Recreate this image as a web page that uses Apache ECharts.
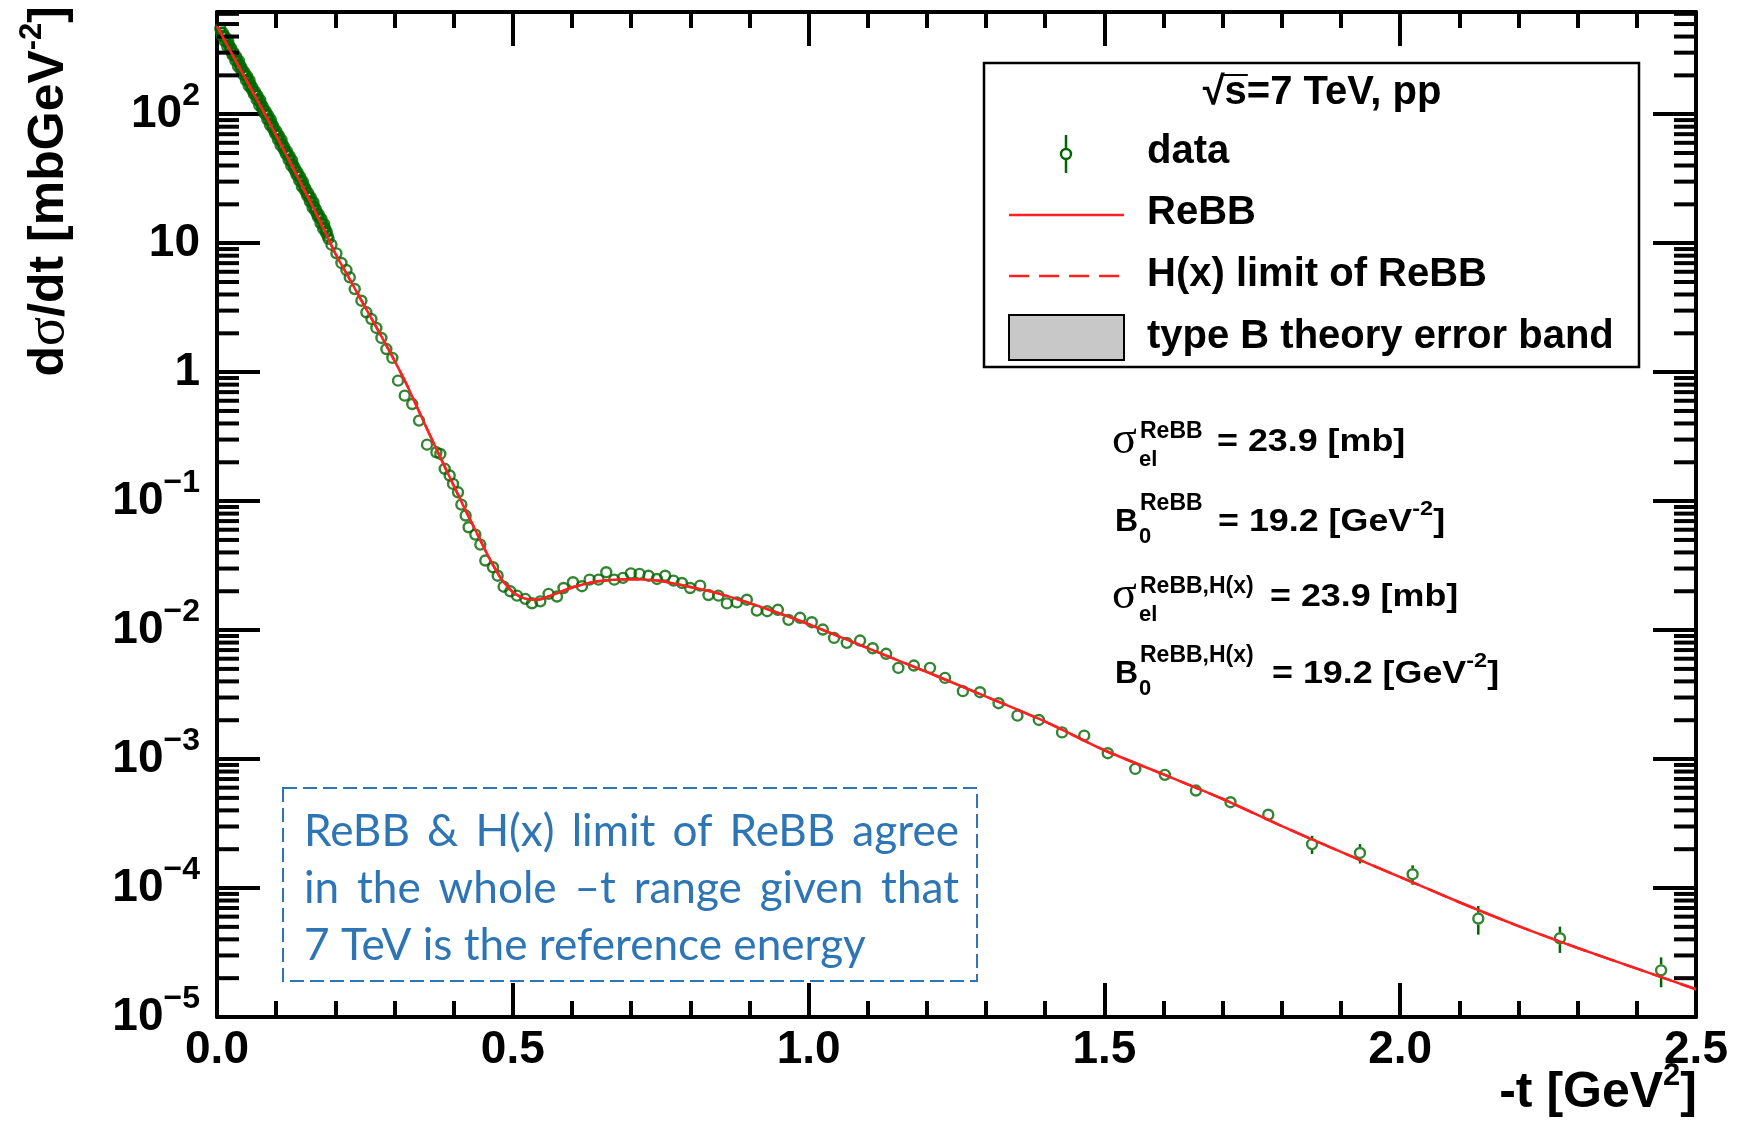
<!DOCTYPE html>
<html>
<head>
<meta charset="utf-8">
<script src="https://cdn.jsdelivr.net/npm/echarts@6/dist/echarts.min.js"></script>
<style>
  html, body { margin: 0; padding: 0; background: #ffffff; }
  #chart { width: 1738px; height: 1122px; }
</style>
</head>
<body>
<div id="chart"></div>
<script>
// ---- measured elastic pp differential cross-section, sqrt(s) = 7 TeV ----
// low-|t| run, fine binning
const tLowA = [
  0.0055, 0.0085, 0.0115, 0.0145, 0.0175, 0.0205, 0.0235, 0.0265, 0.0295, 0.0325,
  0.0355, 0.0385, 0.0415, 0.0445, 0.0475, 0.0505, 0.0535, 0.0565, 0.0595, 0.0625,
  0.0655, 0.0685, 0.0715, 0.0745, 0.0775, 0.0805, 0.0835, 0.0865, 0.0895, 0.0925,
  0.0955, 0.0985, 0.1015, 0.1045, 0.1075, 0.1105, 0.1135, 0.1165, 0.1195, 0.1225,
  0.1255, 0.1285, 0.1315, 0.1345, 0.1375, 0.1405, 0.1435, 0.1465, 0.1495, 0.1525,
  0.1555, 0.1585, 0.1615, 0.1645, 0.1675, 0.1705, 0.1735, 0.1765, 0.1795, 0.1825,
  0.1855, 0.1885
];
const dsdtLowA = [
  461, 406, 401, 396, 333, 341, 326, 287, 283, 280,
  235, 241, 230, 202, 200, 198, 166, 170, 162, 143,
  141, 139.5, 117, 120, 114.5, 101, 99.5, 98.1, 82.4, 84.1,
  80.1, 70.5, 69.5, 68.5, 57.5, 58.6, 55.8, 49.1, 48.4, 47.6,
  39.9, 40.6, 38.6, 33.8, 33.3, 32.8, 27.4, 28.0, 26.6, 23.3,
  22.9, 22.6, 18.9, 19.2, 18.2, 16.0, 15.7, 15.4, 12.9, 13.05,
  12.3, 10.8
];
// low-|t| run, second set of bins
const tLowB = [
  0.007, 0.010, 0.013, 0.016, 0.019, 0.022, 0.025, 0.028, 0.031, 0.034,
  0.037, 0.040, 0.043, 0.046, 0.049, 0.052, 0.055, 0.058, 0.061, 0.064,
  0.067, 0.070, 0.073, 0.076, 0.079, 0.082, 0.085, 0.088, 0.091, 0.094,
  0.097, 0.100, 0.103, 0.106, 0.109, 0.112, 0.115, 0.118, 0.121, 0.124,
  0.127, 0.130, 0.133, 0.136, 0.139, 0.142, 0.145, 0.148, 0.151, 0.154,
  0.157, 0.160, 0.163, 0.166, 0.169, 0.172, 0.175, 0.178, 0.181, 0.184,
  0.187
];
const dsdtLowB = [
  427.8, 427.6, 368, 367.9, 367.7, 316.4, 302, 301.8, 259.8, 259.7,
  259.5, 223.4, 213.3, 213.2, 183.4, 183.3, 183.2, 157.7, 150.5, 150.4,
  129.5, 129.4, 129.4, 111.3, 106.3, 106.1, 91.2, 90.9, 90.8, 78.0,
  74.3, 74.1, 63.6, 63.5, 63.3, 54.3, 51.7, 51.6, 44.3, 44.1,
  43.9, 37.6, 35.7, 35.6, 30.5, 30.3, 30.2, 25.9, 24.6, 24.5,
  21.0, 20.9, 20.8, 17.8, 16.9, 16.7, 14.3, 14.2, 14.1, 12.05,
  11.4
];
// large-|t| run
const tHigh = [
  0.1934, 0.2019, 0.2103, 0.2188, 0.2244, 0.2328, 0.2441, 0.2525, 0.2610, 0.2694,
  0.2779, 0.2863, 0.2964, 0.3060, 0.3173, 0.3300, 0.3415, 0.3550, 0.3708, 0.3775,
  0.3849, 0.3933, 0.3990, 0.4074, 0.4130, 0.4203, 0.4253, 0.4367, 0.4451, 0.4535,
  0.4665, 0.4744, 0.4845, 0.4958, 0.5071, 0.5211, 0.5324, 0.5465, 0.5605, 0.5747,
  0.5858, 0.6017, 0.6169, 0.6298, 0.6450, 0.6580, 0.6715, 0.6861, 0.6996, 0.7142,
  0.7294, 0.7436, 0.7576, 0.7716, 0.7858, 0.7998, 0.8167, 0.8307, 0.8476, 0.8618,
  0.8787, 0.8956, 0.9125, 0.9300, 0.9480, 0.9660, 0.9856, 1.0054, 1.0240, 1.0430,
  1.0645, 1.0870, 1.1084, 1.1310, 1.1517, 1.1780, 1.2052, 1.2306, 1.2608, 1.2897,
  1.3211, 1.3530, 1.3892, 1.4284, 1.4659, 1.5057, 1.5522, 1.6022, 1.6547, 1.7132,
  1.7770, 1.8510, 1.9320, 2.0210, 2.1320, 2.2700, 2.4410
];
const dsdtHigh = [
  9.73, 8.34, 7.02, 6.19, 5.43, 4.41, 3.58, 2.91, 2.58, 2.20,
  1.84, 1.51, 1.29, 0.859, 0.657, 0.566, 0.421, 0.274, 0.239, 0.232,
  0.178, 0.158, 0.136, 0.117, 0.094, 0.0773, 0.0627, 0.0550, 0.0460, 0.0346,
  0.0307, 0.0264, 0.0217, 0.0200, 0.0185, 0.01746, 0.01614, 0.0167, 0.0191, 0.0182,
  0.0212, 0.0235, 0.0219, 0.0246, 0.0246, 0.0281, 0.0246, 0.0254, 0.0275, 0.0273,
  0.0264, 0.0249, 0.0264, 0.0242, 0.0232, 0.0212, 0.0221, 0.0187, 0.0185, 0.0161,
  0.0164, 0.0172, 0.01416, 0.0140, 0.01436, 0.0120, 0.01245, 0.01151, 0.0101, 0.0087,
  0.00796, 0.0083, 0.00723, 0.00655, 0.00509, 0.00531, 0.00509, 0.00426, 0.00336, 0.00330,
  0.00271, 0.00217, 0.00201, 0.00161, 0.00152, 0.00111, 0.000839, 0.000754, 0.000570, 0.000463,
  0.000370, 0.000219, 0.000187, 0.000128, 0.0000580, 0.0000408, 0.0000230
];
// absolute uncertainties of the large-|t| run (only the last ones reach outside the marker)
const errHigh = [
  0.2, 0.17, 0.14, 0.12, 0.11, 0.09, 0.07, 0.06, 0.05, 0.04,
  0.04, 0.03, 0.03, 0.02, 0.015, 0.013, 0.01, 0.007, 0.006, 0.006,
  0.005, 0.004, 0.0035, 0.003, 0.0025, 0.002, 0.0017, 0.0015, 0.0013, 0.001,
  0.0009, 0.0008, 0.0007, 0.0006, 0.0006, 0.0005, 0.0005, 0.0005, 0.0006, 0.0006,
  0.0007, 0.0007, 0.0007, 0.0008, 0.0008, 0.0009, 0.0008, 0.0008, 0.0009, 0.0009,
  0.0009, 0.0008, 0.0009, 0.0008, 0.0008, 0.0007, 0.0008, 0.0007, 0.0007, 0.0006,
  0.0006, 0.0007, 0.0006, 0.0006, 0.0006, 0.0005, 0.0005, 0.0005, 0.0005, 0.0004,
  0.0004, 0.0004, 0.0004, 0.0004, 0.0003, 0.0003, 0.0003, 0.0003, 0.0002, 0.0002,
  0.00015, 0.00012, 0.00012, 0.0001, 0.0001, 0.00008, 0.00006, 0.00006, 0.00005, 0.000035,
  0.00003, 0.000035, 0.000032, 0.000022, 0.0000145, 0.0000094, 0.000006
];
// relative uncertainty of the low-|t| bins (well inside the marker)
const LOW_T_REL_ERR = 0.01;

// ---- ReBB model curve ----
const tCurve = [
  0.00, 0.02, 0.04, 0.06, 0.08, 0.10, 0.12, 0.14, 0.16, 0.18,
  0.20, 0.22, 0.24, 0.26, 0.28, 0.30, 0.32, 0.34, 0.36, 0.38,
  0.40, 0.42, 0.44, 0.46, 0.48, 0.49, 0.50, 0.51, 0.52, 0.53,
  0.54, 0.55, 0.56, 0.58, 0.60, 0.62, 0.64, 0.66, 0.68, 0.70,
  0.72, 0.74, 0.76, 0.80, 0.85, 0.90, 0.95, 1.00,
  1.10, 1.20, 1.30, 1.40, 1.50, 1.60, 1.70, 1.80, 1.90, 2.00,
  2.10, 2.20, 2.30, 2.40, 2.50
];
const rebbCurve = [
  479, 325, 221, 150, 102, 68.4, 45.7, 30.2, 19.95, 13.0,
  8.32, 5.69, 3.89, 2.66, 1.82, 1.23, 0.813, 0.513, 0.324, 0.2065,
  0.132, 0.0851, 0.0556, 0.0363, 0.0251, 0.0220, 0.0197, 0.0184, 0.01758, 0.01725,
  0.01718, 0.01745, 0.0182, 0.0197, 0.0214, 0.0227, 0.0237, 0.0243, 0.0247, 0.0248,
  0.0247, 0.0243, 0.0236, 0.0216, 0.0191, 0.0162, 0.0135, 0.0111,
  0.00724, 0.00473, 0.00305, 0.00195, 0.00117, 0.00076, 0.00049, 0.000302, 0.0001905, 0.0001216,
  0.0000776, 0.0000507, 0.0000343, 0.0000237, 0.0000164
];
// H(x) limit of ReBB: coincides with the full ReBB result at this energy
const hxLimitCurve = [
  479, 325, 221, 150, 102, 68.4, 45.7, 30.2, 19.95, 13.0,
  8.32, 5.69, 3.89, 2.66, 1.82, 1.23, 0.813, 0.513, 0.324, 0.2065,
  0.132, 0.0851, 0.0556, 0.0363, 0.0251, 0.0220, 0.0197, 0.0184, 0.01758, 0.01725,
  0.01718, 0.01745, 0.0182, 0.0197, 0.0214, 0.0227, 0.0237, 0.0243, 0.0247, 0.0248,
  0.0247, 0.0243, 0.0236, 0.0216, 0.0191, 0.0162, 0.0135, 0.0111,
  0.00724, 0.00473, 0.00305, 0.00195, 0.00117, 0.00076, 0.00049, 0.000302, 0.0001905, 0.0001216,
  0.0000776, 0.0000507, 0.0000343, 0.0000237, 0.0000164
];

// ---- axis ticks ----
const xTickLabels = ['0.0', '0.5', '1.0', '1.5', '2.0', '2.5'];
const yTickExponents = [-5, -4, -3, -2, -1, 0, 1, 2];
const yTickLabels = [['10', '\u22125'], ['10', '\u22124'], ['10', '\u22123'], ['10', '\u22122'],
                     ['10', '\u22121'], ['1', ''], ['10', ''], ['10', '2']];
const yMinorMultipliers = [2, 3, 4, 5, 6, 7, 8, 9];

const X_MIN = 0, X_MAX = 2.5, Y_MIN = 1e-5, Y_MAX = 620;

const SANS = '"Liberation Sans", Arial, Helvetica, sans-serif';
const SERIF = '"Liberation Serif", "DejaVu Serif", serif';
const GREEN = '#006600';
const RED = '#ff2020';
const NOTE_BLUE = '#2e75b6';
const MARKER_R = 6;

const yMinorTicks = [];
yTickExponents.forEach(e => yMinorMultipliers.forEach(m => {
  const v = m * Math.pow(10, e);
  if (v < Y_MAX) yMinorTicks.push(v);
}));

const points = []
  .concat(tLowA.map((t, i) => [t, dsdtLowA[i], dsdtLowA[i] * LOW_T_REL_ERR]))
  .concat(tLowB.map((t, i) => [t, dsdtLowB[i], dsdtLowB[i] * LOW_T_REL_ERR]))
  .concat(tHigh.map((t, i) => [t, dsdtHigh[i], errHigh[i]]));

const chart = echarts.init(document.getElementById('chart'), null, { renderer: 'canvas' });

function frameXAxis(position, showLabels) {
  return {
    type: 'value', position: position, min: X_MIN, max: X_MAX, interval: 0.5,
    axisLine: { show: true, onZero: false, lineStyle: { color: '#000', width: 4 } },
    axisTick: { show: true, inside: true, length: 34, lineStyle: { color: '#000', width: 4 } },
    minorTick: { show: true, splitNumber: 5, length: 16, lineStyle: { color: '#000', width: 4 } },
    splitLine: { show: false }, minorSplitLine: { show: false },
    axisLabel: {
      show: showLabels, margin: 10, color: '#000', fontFamily: SANS, fontWeight: 'bold', fontSize: 46,
      formatter: v => xTickLabels[Math.round(v / 0.5)] || ''
    }
  };
}
function frameYAxis(position, showLabels) {
  return {
    type: 'log', logBase: 10, position: position, min: Y_MIN, max: Y_MAX, splitNumber: 10,
    axisLine: { show: true, onZero: false, lineStyle: { color: '#000', width: 4 } },
    axisTick: { show: true, inside: true, length: 43, lineStyle: { color: '#000', width: 4 } },
    splitLine: { show: false },
    axisLabel: {
      show: showLabels, margin: 17, color: '#000', fontFamily: SANS, fontWeight: 'bold', fontSize: 46,
      formatter: v => {
        const lg = Math.log10(v);
        const e = Math.round(lg);
        if (Math.abs(lg - e) > 1e-6) return '';
        const i = yTickExponents.indexOf(e);
        if (i < 0) return '';
        const [base, sup] = yTickLabels[i];
        return sup ? '{b|' + base + '}{s|' + sup + '}' : '{b|' + base + '}';
      },
      rich: {
        b: { fontFamily: SANS, fontWeight: 'bold', fontSize: 46, lineHeight: 68, color: '#000' },
        s: { fontFamily: SANS, fontWeight: 'bold', fontSize: 32, lineHeight: 32, verticalAlign: 'top', color: '#000' }
      }
    }
  };
}

// text helper for titles, legend and annotations
function txt(str, x, y, size, opt) {
  opt = opt || {};
  return {
    type: 'text', x: x, y: y, z: 20, scaleX: opt.scaleX || 1, rotation: opt.rotation || 0,
    style: {
      text: str, fill: opt.color || '#000',
      fontFamily: opt.family || SANS, fontWeight: opt.weight || 'bold', fontSize: size,
      align: opt.align || 'left', verticalAlign: 'middle', rich: opt.rich
    }
  };
}

const measureCtx = document.createElement('canvas').getContext('2d');
function textWidth(s, font) { measureCtx.font = font; return measureCtx.measureText(s).width; }

// justified note text
const NOTE_FAMILY = 'Lato';
const noteLines = ['ReBB & H(x) limit of ReBB agree', 'in the whole \u2013t range given that', '7 TeV is the reference energy'];
const noteJustified = [true, true, false];
const noteLeft = 304, noteRight = 959;
const noteBaselines = [848, 905, 962];
const noteSize = 562 / textWidth(noteLines[2], '100px ' + NOTE_FAMILY) * 100;
const noteFont = noteSize + 'px ' + NOTE_FAMILY;
const noteGraphics = [];
noteLines.forEach((line, li) => {
  const yMid = noteBaselines[li] - 0.36 * noteSize;
  const style = { color: NOTE_BLUE, family: NOTE_FAMILY, weight: 'normal' };
  if (!noteJustified[li]) {
    noteGraphics.push(txt(line, noteLeft, yMid, noteSize, style));
    return;
  }
  const words = line.split(' ');
  const widths = words.map(w => textWidth(w, noteFont));
  const gap = (noteRight - noteLeft - widths.reduce((a, b) => a + b, 0)) / (words.length - 1);
  let x = noteLeft;
  words.forEach((w, wi) => {
    noteGraphics.push(txt(w, x, yMid, noteSize, style));
    x += widths[wi] + gap;
  });
});

// legend header with the square-root bar over "s"
const HEADER = '\u221as=7 TeV, pp';
const headerFont = 'bold 40px "Liberation Sans"';
const headerW = textWidth(HEADER, headerFont);
const headerX0 = 1322 - headerW / 2;
const radW = textWidth('\u221a', headerFont);
const sW = textWidth('s', headerFont);

const annRich = {
  m: { fontFamily: SANS, fontWeight: 'bold', fontSize: 32, lineHeight: 46, color: '#000' },
  s: { fontFamily: SANS, fontWeight: 'bold', fontSize: 21, lineHeight: 21, verticalAlign: 'top', color: '#000' }
};
function annotation(symbol, sup, sub, value, x0, base, xVal) {
  const isSigma = symbol === '\u03c3';
  const out = [];
  if (isSigma) out.push(txt(symbol, x0 - 3, base - 12, 46, { family: SERIF, weight: 'normal' }));
  else out.push(txt(symbol, x0, base - 11, 32));
  out.push(txt(sup, x0 + 25, base - (isSigma ? 21 : 29), 23));
  out.push(txt(sub, x0 + 24, base + (isSigma ? 7 : 4), 22));
  out.push(txt(value, xVal, base - 11, 32, { rich: annRich, scaleX: 1.12 }));
  return out;
}

const titleRich = {
  m: { fontFamily: SANS, fontWeight: 'bold', fontSize: 50, lineHeight: 64, color: '#000' },
  g: { fontFamily: SERIF, fontWeight: 'normal', fontSize: 54, lineHeight: 64, color: '#000' },
  s: { fontFamily: SANS, fontWeight: 'bold', fontSize: 31, lineHeight: 31, verticalAlign: 'top', color: '#000' }
};

const option = {
  animation: false,
  backgroundColor: '#ffffff',
  grid: { left: 217, right: 42, top: 12, bottom: 105, containLabel: false, outerBoundsMode: 'none' },
  xAxis: [frameXAxis('bottom', true), frameXAxis('top', false)],
  yAxis: [frameYAxis('left', true), frameYAxis('right', false)],
  series: [
    {
      // minor decade ticks on both vertical frame sides
      type: 'custom', name: 'yMinor', silent: true, z: 5,
      data: yMinorTicks.map(v => [0, v]),
      renderItem: (params, api) => {
        const v = api.value(1);
        const l = api.coord([X_MIN, v]);
        const r = api.coord([X_MAX, v]);
        const st = { stroke: '#000', lineWidth: 4 };
        return {
          type: 'group', children: [
            { type: 'line', shape: { x1: l[0], y1: l[1], x2: l[0] + 22, y2: l[1] }, style: st },
            { type: 'line', shape: { x1: r[0] - 22, y1: r[1], x2: r[0], y2: r[1] }, style: st }
          ]
        };
      }
    },
    {
      type: 'custom', name: 'errors', silent: true, z: 3,
      data: points,
      renderItem: (params, api) => {
        const t = api.value(0), v = api.value(1), e = api.value(2);
        const c = api.coord([t, v]);
        const hi = api.coord([t, v + e]);
        const lo = api.coord([t, Math.max(v - e, Y_MIN * 0.5)]);
        const st = { stroke: GREEN, lineWidth: 2.5 };
        const ch = [];
        if (c[1] - hi[1] > MARKER_R) ch.push({ type: 'line', shape: { x1: c[0], y1: hi[1], x2: c[0], y2: c[1] - MARKER_R }, style: st });
        if (lo[1] - c[1] > MARKER_R) ch.push({ type: 'line', shape: { x1: c[0], y1: c[1] + MARKER_R, x2: c[0], y2: lo[1] }, style: st });
        return { type: 'group', children: ch };
      }
    },
    {
      type: 'scatter', name: 'data', z: 3,
      symbol: 'circle', symbolSize: 10,
      itemStyle: { color: 'rgba(0,0,0,0)', borderColor: GREEN, borderWidth: 2.4 },
      data: points.map(p => [p[0], p[1]])
    },
    {
      type: 'line', name: 'H(x) limit of ReBB', z: 4,
      showSymbol: false, symbol: 'none', smooth: 0.25,
      lineStyle: { color: RED, width: 2.5, type: [20, 10] },
      data: tCurve.map((t, i) => [t, hxLimitCurve[i]])
    },
    {
      type: 'line', name: 'ReBB', z: 5,
      showSymbol: false, symbol: 'none', smooth: 0.25,
      lineStyle: { color: RED, width: 2.5 },
      data: tCurve.map((t, i) => [t, rebbCurve[i]])
    }
  ],
  graphic: [
    // axis titles
    txt('{m|d}{g|\u03c3}{m|/dt [mbGeV}{s|-2}{m|]}', 49, 6, 50,
        { rich: titleRich, align: 'right', rotation: Math.PI / 2 }),
    txt('{m|-t [GeV}{s|2}{m|]}', 1697, 1093, 50, { rich: titleRich, align: 'right' }),

    // legend frame and entries
    { type: 'rect', z: 15, shape: { x: 984, y: 63, width: 655, height: 304 },
      style: { fill: '#ffffff', stroke: '#000', lineWidth: 2.5 } },
    txt(HEADER, headerX0, 93, 40),
    { type: 'line', z: 21, shape: { x1: headerX0 + radW - 2, y1: 75, x2: headerX0 + radW + sW + 1, y2: 75 },
      style: { stroke: '#000', lineWidth: 2 } },
    { type: 'line', z: 20, shape: { x1: 1066, y1: 135, x2: 1066, y2: 148 }, style: { stroke: GREEN, lineWidth: 2.5 } },
    { type: 'line', z: 20, shape: { x1: 1066, y1: 160, x2: 1066, y2: 173 }, style: { stroke: GREEN, lineWidth: 2.5 } },
    { type: 'circle', z: 20, shape: { cx: 1066, cy: 154, r: 5 }, style: { fill: 'none', stroke: GREEN, lineWidth: 2.4 } },
    txt('data', 1147, 152, 40),
    { type: 'line', z: 20, shape: { x1: 1009, y1: 215, x2: 1124, y2: 215 }, style: { stroke: RED, lineWidth: 2.5 } },
    txt('ReBB', 1147, 213, 40),
    { type: 'line', z: 20, shape: { x1: 1009, y1: 276, x2: 1124, y2: 276 }, style: { stroke: RED, lineWidth: 2.5, lineDash: [20, 10] } },
    txt('H(x) limit of ReBB', 1147, 275, 40),
    { type: 'rect', z: 20, shape: { x: 1009, y: 315, width: 115, height: 45 }, style: { fill: '#c8c8c8', stroke: '#000', lineWidth: 2 } },
    txt('type B theory error band', 1147, 337, 40),

    // fit parameters
    ...annotation('\u03c3', 'ReBB', 'el', '{m|= 23.9 [mb]}', 1115, 453, 1217),
    ...annotation('B', 'ReBB', '0', '{m|= 19.2 [GeV}{s|-2}{m|]}', 1115, 533, 1218),
    ...annotation('\u03c3', 'ReBB,H(x)', 'el', '{m|= 23.9 [mb]}', 1115, 608, 1270),
    ...annotation('B', 'ReBB,H(x)', '0', '{m|= 19.2 [GeV}{s|-2}{m|]}', 1115, 685, 1272),

    // note box
    { type: 'rect', z: 15, shape: { x: 283, y: 788, width: 694, height: 193 },
      style: { fill: '#ffffff', stroke: NOTE_BLUE, lineWidth: 2, lineDash: [14, 6] } },
    ...noteGraphics
  ]
};

chart.setOption(option);
</script>
</body>
</html>
